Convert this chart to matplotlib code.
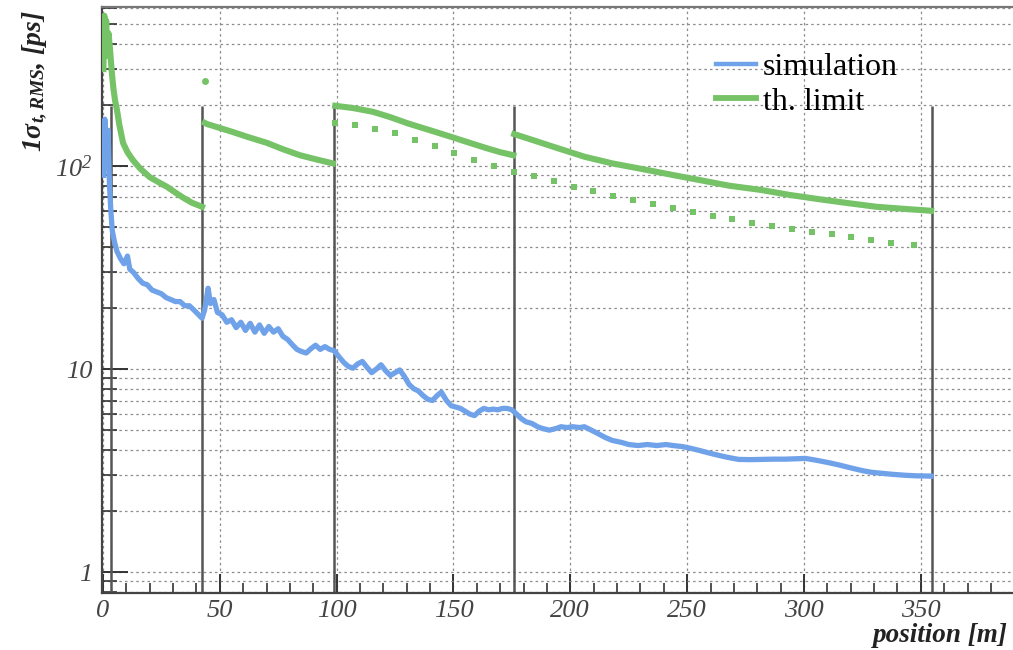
import matplotlib
matplotlib.use("Agg")

import matplotlib.pyplot as plt
import numpy as np
from matplotlib.lines import Line2D
from matplotlib.ticker import FuncFormatter, LogLocator, MultipleLocator, NullFormatter


plt.rcParams["font.family"] = "Liberation Serif"
plt.rcParams["mathtext.fontset"] = "custom"
plt.rcParams["mathtext.rm"] = "Liberation Serif:italic"
plt.rcParams["mathtext.it"] = "Liberation Serif:italic"
plt.rcParams["mathtext.bf"] = "Liberation Serif:bold:italic"

BLUE = "#70a2ea"
GREEN = "#76c267"
GRID = "#8c8c8c"
TEXT = "#444444"

# section boundaries [m]
section_x = [3.4, 42.4, 99.0, 175.8, 354.6]
section_top = 198

# simulation (blue)
sim_x = [0.3, 0.8, 1.5, 2.2, 2.8, 3.4, 4.0, 5.0, 6.0, 7.5, 9.0, 10.5, 11.5,
         13, 15, 17, 19, 21, 23, 25, 27, 29, 31, 33, 35, 37, 39, 41, 42.4,
         43.5, 45.0, 46.0, 47.5, 49, 51, 53, 55, 57, 59, 61, 63, 65, 67, 69,
         71, 73, 75, 77, 79, 81, 83, 85, 87, 89, 91, 93, 95, 97, 99, 101,
         103, 105, 107, 109, 111, 113, 115, 117, 119, 121, 123, 125, 127,
         129, 131, 133, 135, 137, 139, 141, 143, 144.8, 147, 149, 151, 153,
         155, 157, 159, 161, 163, 165, 167, 169, 171, 173, 175, 177, 179,
         181, 183.5, 186, 188, 191, 194, 196, 198.6, 201, 204, 206, 209,
         212, 215, 218, 222, 225, 229, 233, 237, 241, 244, 248, 251.5, 255,
         259, 263, 267, 272, 277, 282, 287, 292, 297, 300.6, 305, 310, 315,
         320, 325, 329, 334, 338, 343, 348, 354.4]
sim_y = [90, 170, 120, 150, 80, 60, 48, 42, 38, 35, 33, 36, 31,
         30, 28, 26.5, 26, 24.5, 24, 23.5, 22.5, 22, 21.5, 21.5, 20.5, 20.5,
         19.5, 18.5, 17.8,
         19.5, 25, 21, 22, 19, 18.5, 17, 17.5, 16, 17, 15.5, 16.8, 15.2, 16.5,
         15, 16.2, 15.2, 15.8, 14.5, 14, 13.2, 12.5, 12.2, 12.0, 12.6, 13.1,
         12.5, 12.9, 12.5, 12.3, 11.5, 10.8, 10.3, 10.1, 10.6, 10.9, 10.2,
         9.6, 10.0, 10.5, 9.8, 9.3, 9.6, 9.9, 9.2, 8.4, 8.0, 7.8, 7.4, 7.1,
         7.0, 7.4, 7.7, 7.0, 6.6, 6.5, 6.4, 6.2, 6.0, 5.9, 6.2, 6.4, 6.3,
         6.35, 6.3, 6.4, 6.4, 6.3, 6.0, 5.7, 5.5, 5.4, 5.2, 5.1, 5.0, 5.1,
         5.2, 5.15, 5.2, 5.15, 5.2, 5.0, 4.8, 4.6, 4.45, 4.35, 4.25, 4.2,
         4.25, 4.2, 4.25, 4.2, 4.15, 4.07, 3.98, 3.87, 3.77, 3.68, 3.59,
         3.58, 3.59, 3.6, 3.6, 3.62, 3.63, 3.56, 3.47, 3.37, 3.26, 3.16,
         3.1, 3.06, 3.03, 3.0, 2.98, 2.97]

# theoretical limit (green), one list pair per section
lim1_x = [0.2, 0.6, 1.0, 1.4, 1.8, 2.4, 3.0, 3.4, 3.9, 4.5, 5.2, 6.0, 7.0,
          8.6, 10.5, 12.8, 16, 20.1, 24, 27.4, 31, 34.2, 38, 42.4]
lim1_y = [300, 550, 400, 520, 350, 450, 380, 330, 281, 240, 210, 189, 160,
          130, 117, 107, 97, 88, 83, 79, 74, 70, 66, 63]
lim2_x = [43.6, 44.5, 50, 55.6, 62, 70.2, 77, 84.3, 91, 98.4]
lim2_y = [163, 161, 154, 147, 139, 130, 121, 113, 108, 103]
lim3_x = [99.4, 107, 115.5, 123, 130.6, 140, 149.5, 157, 164.6, 170, 175.6]
lim3_y = [198, 193, 185, 174, 162, 150, 138.6, 130, 122, 117, 113]
lim4_x = [176, 185, 195, 206.2, 218, 230, 243.9, 256, 268, 281.7, 294,
          307, 319.5, 331, 343, 354.4]
lim4_y = [143.6, 133, 122, 111, 103, 97, 90.3, 85, 80, 76.2, 72, 68.5,
          65.5, 63, 61.5, 60.2]

# lower limit points (green dashes)
low_x = [99.4, 108.0, 116.5, 125.0, 133.5, 141.9, 150.4, 159.0, 167.4,
         176.0, 184.4, 192.9, 201.4, 209.9, 218.4, 226.9, 235.4, 243.9,
         252.4, 260.9, 269.3, 277.8, 286.3, 294.8, 303.3, 311.8, 320.3,
         328.8, 337.3, 346.9]
low_y = [163, 159, 152, 145, 135, 125.5, 115.5, 107, 100, 93.8, 89.3, 84.0,
         79.1, 75.6, 71.4, 68.0, 65.0, 61.9, 59.1, 56.7, 54.8, 52.6, 50.8,
         49.1, 47.5, 46.0, 44.6, 43.2, 41.9, 40.8]

# stray point just after the first section
stray_x = [43.6]
stray_y = [262]

y_labels = {1: "1", 10: "10", 100: r"$10^{2}$"}


def render():

    fig = plt.figure(figsize=(10.13, 6.5), dpi=100, facecolor="white")

    ax = fig.add_axes([102 / 1013, 57 / 650, 924 / 1013, 586 / 650])
    ax.set_yscale("log")
    ax.set_xlim(-0.4, 395)
    ax.set_ylim(0.789, 607)

    # grid
    dash = (0, (2, 2.5))
    ax.grid(True, which="major", axis="x", color=GRID, lw=0.9, linestyle=dash)
    ax.grid(True, which="both", axis="y", color=GRID, lw=0.9, linestyle=dash)
    ax.set_axisbelow(True)

    # section boundaries
    ax.vlines(section_x, 0.789, section_top, colors="#555555", lw=1.8,
              zorder=2)

    ax.plot(sim_x, sim_y, color=BLUE, lw=3.8, zorder=4,
            solid_joinstyle="round")

    for xs, ys in [(lim1_x, lim1_y), (lim2_x, lim2_y),
                   (lim3_x, lim3_y), (lim4_x, lim4_y)]:
        ax.plot(xs, ys, color=GREEN, lw=4.4, zorder=3,
                solid_joinstyle="round")

    ax.plot(low_x, low_y, "s", color=GREEN, ms=5, mew=0, zorder=3)
    ax.plot(stray_x, stray_y, "o", color=GREEN, ms=5, mew=0, zorder=3)

    # ticks
    ax.xaxis.set_major_locator(MultipleLocator(50))
    ax.xaxis.set_minor_locator(MultipleLocator(10))
    ax.yaxis.set_major_locator(LogLocator(base=10))
    ax.yaxis.set_minor_locator(LogLocator(base=10, subs=range(2, 10)))
    ax.yaxis.set_minor_formatter(NullFormatter())
    ax.yaxis.set_major_formatter(
        FuncFormatter(lambda v, p: y_labels.get(int(round(v)), ""))
    )

    ax.tick_params(axis="both", which="both", direction="in",
                   top=False, right=False, color="#333333",
                   labelcolor=TEXT, labelsize=19)
    ax.tick_params(axis="x", which="major", length=14, width=1.4, pad=5)
    ax.tick_params(axis="x", which="minor", length=7, width=1.2)
    ax.tick_params(axis="y", which="major", length=19, width=1.4, pad=7)
    ax.tick_params(axis="y", which="minor", length=10.5, width=1.2)

    for lab in ax.get_xticklabels() + ax.get_yticklabels():
        lab.set_fontstyle("italic")

    for side in ["left", "bottom"]:
        ax.spines[side].set_linewidth(1.6)
        ax.spines[side].set_color("#444444")
    ax.spines["top"].set_linewidth(1.6)
    ax.spines["top"].set_color("#777777")

    # labels
    fig.text(35 / 1013, 1 - 10 / 650,
             r"1σ${}_{\mathbf{t,RMS}}$, [ps]",
             rotation=90, ha="center", va="top", fontsize=20,
             fontweight="bold", fontstyle="italic", color="#222222")

    fig.text(1008 / 1013, 1 - 636 / 650, "position [m]",
             ha="right", va="center", fontsize=19.5,
             fontweight="bold", fontstyle="italic", color="#222222")

    handles = [
        Line2D([], [], color=BLUE, lw=3.2),
        Line2D([], [], color=GREEN, lw=4.2),
    ]
    fig.legend(handles, ["simulation", "th. limit"],
               loc="upper left", bbox_to_anchor=(716 / 1013, 1 - 53 / 650),
               frameon=False, fontsize=23, borderpad=0, borderaxespad=0,
               handlelength=1.25, handletextpad=0.22, labelspacing=0.15)

    fig.savefig("out.png", dpi=100, facecolor="white")
    plt.close(fig)


render()
